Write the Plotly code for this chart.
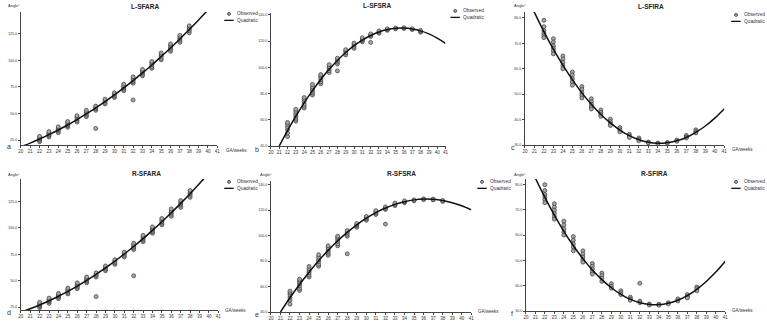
import plotly.graph_objects as go

W, H = 767, 324

# ---------------- data ----------------
obs_weeks = list(range(22, 39))

# L-SFARA observed (per week, 22..38)
a_obs = [
    [23.5, 25.0, 26.0, 27.0, 28.5], [28.0, 29.5, 30.5, 31.5, 33.0],
    [32.0, 33.5, 35.0, 36.0, 37.5], [37.0, 38.5, 39.5, 41.0, 42.5],
    [42.0, 43.5, 45.0, 46.5, 48.0], [47.0, 48.5, 50.0, 51.5, 53.0],
    [53.0, 54.5, 55.5, 57.0, 36.0], [59.0, 60.5, 62.0, 63.5],
    [65.0, 66.5, 68.0, 69.5], [71.5, 73.0, 74.5, 76.0, 77.5],
    [78.5, 80.0, 81.5, 83.0, 84.5, 62.8], [85.5, 87.0, 88.5, 90.0, 91.5],
    [92.5, 94.0, 96.0, 97.5, 99.0], [100.5, 102.0, 104.0, 105.5, 107.0],
    [108.5, 110.5, 112.0, 114.0, 115.5], [117.0, 119.0, 120.5, 122.0, 123.5],
    [126.0, 128.0, 129.5, 131.0, 132.5],
]
a_fit_weeks = list(range(20, 41))
a_fit = [18.7, 22.2, 26.0, 30.1, 34.5, 39.2, 44.3, 49.6, 55.3, 61.2, 67.5,
         74.1, 81.0, 88.2, 95.7, 103.6, 111.7, 120.2, 129.0, 138.1, 147.5]

# L-SFSRA
b_obs = [
    [47.3, 50.0, 52.5, 54.5, 56.5, 58.0], [59.0, 60.5, 62.0, 63.5, 65.0, 66.5, 68.0],
    [69.0, 70.5, 72.0, 74.0, 75.5, 77.0], [79.0, 80.5, 82.0, 83.5, 85.0, 87.0],
    [87.5, 89.0, 90.5, 92.0, 93.5, 94.5], [96.0, 97.5, 99.0, 100.5, 102.0],
    [102.5, 104.0, 105.5, 107.0, 97.3], [109.5, 111.0, 112.5, 113.5],
    [114.5, 116.0, 117.5, 118.5], [119.5, 120.5, 121.5, 122.5],
    [123.5, 124.5, 125.5, 119.0], [126.0, 127.0, 127.8],
    [128.2, 128.8, 129.3], [129.4, 130.0], [129.6, 130.2],
    [128.8, 129.4], [126.8, 127.5, 128.2],
]
b_fit_weeks = list(range(21, 42))
b_fit = [40.0, 51.8, 62.8, 73.0, 82.3, 90.8, 98.5, 105.3, 111.3, 116.5, 120.8,
         124.3, 127.0, 128.8, 129.8, 130.0, 129.3, 127.8, 125.5, 122.3, 118.3]

# L-SFIRA
c_obs = [
    [79.0, 76.5, 75.0, 74.0, 73.0, 72.2], [71.8, 70.5, 69.0, 68.0, 67.0, 65.8],
    [65.0, 63.8, 62.5, 61.2, 60.0], [58.7, 57.5, 56.0, 54.8, 53.5],
    [53.0, 51.8, 50.5, 49.5, 48.5], [48.2, 47.0, 46.0, 45.0, 44.2],
    [43.8, 42.8, 42.0, 41.3], [40.2, 39.2, 38.4, 37.7],
    [36.9, 36.0, 35.2], [34.3, 33.6, 33.0], [32.8, 32.2, 31.7],
    [31.2, 30.9], [30.8, 30.6], [31.0, 30.8], [32.0, 31.5],
    [33.8, 33.2, 32.8], [36.0, 35.3, 34.8],
]
c_fit_weeks = list(range(20, 42))
c_fit = [90.2, 82.1, 74.6, 67.7, 61.4, 55.7, 50.5, 46.0, 42.0, 38.7, 35.9,
         33.7, 32.1, 31.1, 30.7, 30.9, 31.7, 33.0, 35.0, 37.5, 40.6, 44.3]

# R-SFARA
d_obs = [
    [24.5, 26.0, 27.0, 28.0, 29.5], [28.5, 30.0, 31.0, 32.0, 33.5],
    [33.0, 34.5, 35.5, 36.5, 38.0], [37.5, 39.0, 40.5, 41.5, 43.0],
    [42.5, 44.0, 45.5, 46.5, 48.0], [48.0, 49.5, 50.5, 52.0, 53.5],
    [53.5, 55.0, 56.0, 57.5, 35.0], [59.5, 61.0, 62.5, 64.0],
    [65.5, 67.0, 68.5, 70.0], [72.5, 74.0, 75.5, 77.0],
    [79.5, 81.0, 82.5, 84.0, 85.5, 54.7], [87.0, 88.5, 90.0, 91.5, 93.0],
    [95.0, 96.5, 98.0, 99.5, 101.0], [103.0, 104.5, 106.0, 107.5, 109.0],
    [111.0, 113.0, 114.5, 116.0, 118.0], [119.5, 121.5, 123.0, 124.5, 126.0],
    [129.0, 131.0, 132.5, 134.0, 135.5],
]
d_fit_weeks = list(range(20, 41))
d_fit = [20.1, 23.4, 27.0, 31.0, 35.3, 39.9, 44.9, 50.3, 56.0, 62.1, 68.5,
         75.3, 82.4, 89.9, 97.7, 105.9, 114.4, 123.3, 132.5, 142.1, 152.0]

# R-SFSRA
e_obs = [
    [46.2, 49.5, 51.5, 53.5, 55.0, 56.4], [57.0, 58.5, 60.5, 62.0, 63.5, 65.0, 65.7],
    [67.5, 69.0, 71.0, 72.5, 74.0, 75.8], [76.0, 77.5, 79.5, 81.0, 83.0, 85.0],
    [84.5, 86.0, 87.5, 89.0, 90.5, 92.0], [92.0, 93.5, 95.5, 97.0, 98.5, 99.5],
    [99.5, 101.0, 102.5, 104.0, 85.7], [106.5, 107.5, 108.5, 109.5],
    [112.0, 113.0, 114.0, 115.0], [116.5, 117.5, 118.5, 119.5],
    [120.5, 121.5, 122.5, 109.0], [123.5, 124.5, 125.5],
    [125.8, 126.5, 127.2], [127.3, 128.0], [128.2, 128.8],
    [128.0, 128.6], [126.8, 127.5],
]
e_fit_weeks = list(range(21, 42))
e_fit = [40.0, 51.2, 61.6, 71.3, 80.3, 88.4, 95.9, 102.5, 108.4, 113.6, 118.0,
         121.6, 124.5, 126.6, 128.0, 128.6, 128.4, 127.5, 125.8, 123.4, 120.2]

# R-SFIRA
f_obs = [
    [79.9, 77.6, 76.0, 75.0, 74.0, 72.8], [72.4, 71.0, 69.8, 68.5, 67.3, 66.3],
    [65.5, 64.0, 62.5, 61.2, 60.0], [59.4, 58.0, 56.5, 55.2, 53.8],
    [53.8, 52.5, 51.3, 50.2, 49.3], [48.8, 47.7, 46.6, 45.5, 44.6],
    [45.0, 44.0, 43.0, 41.7], [40.8, 39.8, 39.0], [38.0, 37.2, 36.5],
    [35.5, 34.8, 34.3], [33.9, 33.3, 41.0], [32.8, 32.4], [32.7, 32.3],
    [33.3, 32.8], [34.8, 34.0], [36.5, 35.7, 35.2], [39.5, 38.8, 38.0],
]
f_fit_weeks = list(range(20, 42))
f_fit = [90.8, 82.5, 74.9, 67.9, 61.5, 55.8, 50.7, 46.2, 42.4, 39.2, 36.6,
         34.6, 33.3, 32.6, 32.5, 33.1, 34.3, 36.1, 38.6, 41.7, 45.4, 49.7]

titles = ["L-SFARA", "L-SFSRA", "L-SFIRA", "R-SFARA", "R-SFSRA", "R-SFIRA"]
letters = ["a", "b", "c", "d", "e", "f"]
x_ticks = list(range(20, 42))
ara_ticks = [25, 50, 75, 100, 125]
sra_ticks = [40, 60, 80, 100, 120, 140]
ira_ticks = [30, 40, 50, 60, 70, 80]
legend_names = ["Observed", "Quadratic"]

# ---------------- layout (pixels) ----------------
panels = [
    dict(obs=a_obs, fw=a_fit_weeks, fv=a_fit, xd=(18, 216), yd=(12, 146), yr=(20.3, 145.6),
         yt=ara_ticks, tpos=(143, 7), ang=(3, 6), ga=(223, 151), let=(2, 147), leg=(223, 14)),
    dict(obs=b_obs, fw=b_fit_weeks, fv=b_fit, xd=(270, 446), yd=(13, 147), yr=(40, 141.5),
         yt=sra_ticks, tpos=(377, 6), ang=None, ga=None, let=(252, 150), leg=(451, 11)),
    dict(obs=c_obs, fw=c_fit_weeks, fv=c_fit, xd=(526, 727), yd=(12, 146), yr=(30, 82.3),
         yt=ira_ticks, tpos=(653, 7), ang=(513, 6), ga=(733, 150), let=(510, 148), leg=(734, 15)),
    dict(obs=d_obs, fw=d_fit_weeks, fv=d_fit, xd=(18, 217), yd=(180, 312), yr=(22.2, 146.5),
         yt=ara_ticks, tpos=(145, 175), ang=(3, 176), ga=(222, 312), let=(2, 314), leg=(223, 183)),
    dict(obs=e_obs, fw=e_fit_weeks, fv=e_fit, xd=(270, 472), yd=(182, 314), yr=(40, 142.9),
         yt=sra_ticks, tpos=(402, 175), ang=(257, 176), ga=(477, 313), let=(252, 316), leg=(478, 183)),
    dict(obs=f_obs, fw=f_fit_weeks, fv=f_fit, xd=(527, 728), yd=(180, 313), yr=(30, 82.2),
         yt=ira_ticks, tpos=(657, 175), ang=(513, 176), ga=(733, 312), let=(510, 315), leg=(734, 183)),
]

def px(x):
    return x / W

def py(y):
    return 1 - y / H

FONT = "Liberation Sans, Arial, sans-serif"
MARK_FILL = "#a6a6a6"
MARK_LINE = "#3a3a3a"

fig = go.Figure()
annotations = []
shapes = []

for i, p in enumerate(panels):
    n = i + 1
    xa = "x" if n == 1 else f"x{n}"
    ya = "y" if n == 1 else f"y{n}"
    xs, ys = [], []
    for wk, vals in zip(obs_weeks, p["obs"]):
        for v in vals:
            xs.append(wk)
            ys.append(v)
    fig.add_trace(go.Scatter(
        x=xs, y=ys, mode="markers", xaxis=xa, yaxis=ya, showlegend=False,
        name=legend_names[0],
        marker=dict(size=4.0, color=MARK_FILL, line=dict(color=MARK_LINE, width=0.7)),
    ))
    fig.add_trace(go.Scatter(
        x=p["fw"], y=p["fv"], mode="lines", xaxis=xa, yaxis=ya, showlegend=False,
        name=legend_names[1], line=dict(color="#111111", width=1.5, shape="spline"),
    ))

    axkw = dict(showgrid=False, zeroline=False, showline=True, linecolor="#444",
                linewidth=1, ticks="outside", ticklen=2, tickwidth=0.6, tickcolor="#444")
    fig.update_layout(**{
        ("xaxis" if n == 1 else f"xaxis{n}"): dict(
            domain=[px(p["xd"][0]), px(p["xd"][1])], range=[20, 41],
            tickvals=x_ticks, anchor=ya,
            tickfont=dict(size=4.5, color="#333", family=FONT), **axkw),
        ("yaxis" if n == 1 else f"yaxis{n}"): dict(
            domain=[py(p["yd"][1]), py(p["yd"][0])], range=list(p["yr"]),
            tickvals=p["yt"], tickformat=".1f", anchor=xa,
            tickfont=dict(size=3.6, color="#333", family=FONT), **axkw),
    })

    # title
    annotations.append(dict(x=px(p["tpos"][0]), y=py(p["tpos"][1]), xref="paper", yref="paper",
                            text=f"<b>{titles[i]}</b>", showarrow=False,
                            font=dict(size=6.5, color="#222", family=FONT),
                            xanchor="center", yanchor="middle"))
    if p["ang"]:
        annotations.append(dict(x=px(p["ang"][0]), y=py(p["ang"][1]), xref="paper", yref="paper",
                                text="Angle°", showarrow=False,
                                font=dict(size=4, color="#333", family=FONT),
                                xanchor="left", yanchor="middle"))
    if p["ga"]:
        annotations.append(dict(x=px(p["ga"][0]), y=py(p["ga"][1]), xref="paper", yref="paper",
                                text="GA/weeks", showarrow=False,
                                font=dict(size=4.5, color="#333", family=FONT),
                                xanchor="left", yanchor="middle"))
    annotations.append(dict(x=px(p["let"][0]), y=py(p["let"][1]), xref="paper", yref="paper",
                            text=letters[i], showarrow=False,
                            font=dict(size=7, color="#333", family=FONT),
                            xanchor="left", yanchor="middle"))
    # legend
    lx, ly = p["leg"]
    shapes.append(dict(type="circle", xref="paper", yref="paper",
                       x0=px(lx + 3.3), x1=px(lx + 6.3), y0=py(ly + 1.5), y1=py(ly - 1.5),
                       fillcolor=MARK_FILL, line=dict(color=MARK_LINE, width=0.8)))
    shapes.append(dict(type="line", xref="paper", yref="paper",
                       x0=px(lx), x1=px(lx + 9.5), y0=py(ly + 6.5), y1=py(ly + 6.5),
                       line=dict(color="#111", width=1.3)))
    for k, nm in enumerate(legend_names):
        annotations.append(dict(x=px(lx + 10.5), y=py(ly + 6.5 * k), xref="paper", yref="paper",
                                text=nm, showarrow=False,
                                font=dict(size=4.8, color="#333", family=FONT),
                                xanchor="left", yanchor="middle"))

fig.update_layout(
    width=W, height=H, margin=dict(l=0, r=0, t=0, b=0),
    paper_bgcolor="white", plot_bgcolor="white",
    annotations=annotations, shapes=shapes, showlegend=False,
    font=dict(family=FONT),
)

fig.write_html("out.html")
